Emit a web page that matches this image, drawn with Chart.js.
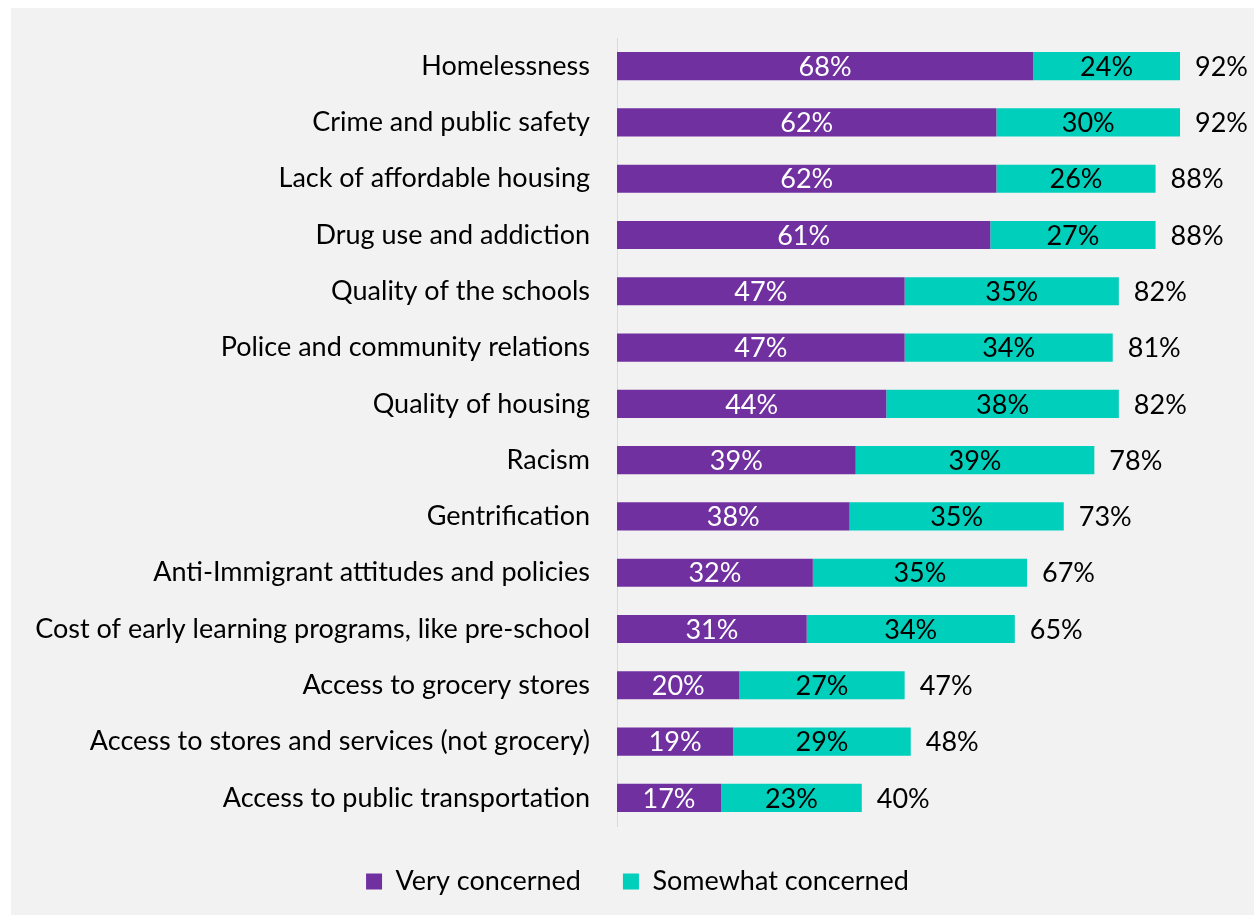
<!DOCTYPE html>
<html>
<head>
<meta charset="utf-8">
<script src="https://cdn.jsdelivr.net/npm/chart.js@4"></script>
<style>
  html, body { margin: 0; padding: 0; background: #fff; }
  #panel { position: absolute; left: 11px; top: 8px; width: 1243px; height: 907px; background: #f2f2f2; }
  #chart { display: block; }
</style>
</head>
<body>
<div id="panel"><canvas id="chart" width="1243" height="907"></canvas></div>
<script>
const categories = [
  'Homelessness',
  'Crime and public safety',
  'Lack of affordable housing',
  'Drug use and addiction',
  'Quality of the schools',
  'Police and community relations',
  'Quality of housing',
  'Racism',
  'Gentrification',
  'Anti-Immigrant attitudes and policies',
  'Cost of early learning programs, like pre-school',
  'Access to grocery stores',
  'Access to stores and services (not grocery)',
  'Access to public transportation'
];
const veryConcerned     = [68, 62, 62, 61, 47, 47, 44, 39, 38, 32, 31, 20, 19, 17];
const somewhatConcerned = [24, 30, 26, 27, 35, 34, 38, 39, 35, 35, 34, 27, 29, 23];
const seriesNames = ['Very concerned', 'Somewhat concerned'];

const PURPLE = '#7030a0';
const TEAL = '#00cfbb';
const FONT = 'Lato, "Open Sans", sans-serif';
const FONT_SIZE = 27;

// labels inside each segment plus the total after the stack
const barLabels = {
  id: 'barLabels',
  afterDatasetsDraw(chart) {
    const { ctx } = chart;
    ctx.save();
    ctx.font = `${FONT_SIZE}px ${FONT}`;
    ctx.textBaseline = 'middle';
    chart.data.datasets.forEach((ds, di) => {
      const meta = chart.getDatasetMeta(di);
      meta.data.forEach((bar, i) => {
        ctx.fillStyle = di === 0 ? '#ffffff' : '#000000';
        ctx.textAlign = 'center';
        ctx.fillText(ds.data[i] + '%', (bar.x + bar.base) / 2, bar.y + 1);
        if (di === chart.data.datasets.length - 1) {
          const total = chart.data.datasets.reduce((s, d) => s + d.data[i], 0);
          ctx.fillStyle = '#000000';
          ctx.textAlign = 'left';
          ctx.fillText(total + '%', bar.x + 15, bar.y + 1);
        }
      });
    });
    ctx.restore();
  }
};

// nudge the legend a little to the right of the canvas centre
const legendShift = {
  id: 'legendShift',
  afterLayout(chart) {
    if (chart.legend) chart.legend.left += 35;
  }
};

new Chart(document.getElementById('chart').getContext('2d'), {
  type: 'bar',
  data: {
    labels: categories,
    datasets: [
      { label: seriesNames[0], data: veryConcerned, backgroundColor: PURPLE },
      { label: seriesNames[1], data: somewhatConcerned, backgroundColor: TEAL }
    ]
  },
  options: {
    indexAxis: 'y',
    responsive: false,
    animation: false,
    layout: { padding: { top: 30, right: 25, bottom: 10, left: 0 } },
    datasets: { bar: { categoryPercentage: 1, barPercentage: 0.5 } },
    scales: {
      x: {
        display: false,
        stacked: true,
        min: 0,
        max: 100
      },
      y: {
        stacked: true,
        grid: { display: false, drawTicks: false },
        border: { display: true, color: '#d9d9d9', width: 1 },
        ticks: { color: '#000', padding: 27, font: { family: FONT, size: FONT_SIZE } },
        afterFit: s => { s.width = 606; s.paddingTop = 0; s.paddingBottom = 0; }
      }
    },
    plugins: {
      legend: {
        position: 'bottom',
        labels: {
          color: '#000',
          boxWidth: 16,
          boxHeight: 16,
          padding: 42,
          font: { family: FONT, size: FONT_SIZE }
        }
      },
      tooltip: { enabled: false }
    }
  },
  plugins: [barLabels, legendShift]
});
</script>
</body>
</html>
